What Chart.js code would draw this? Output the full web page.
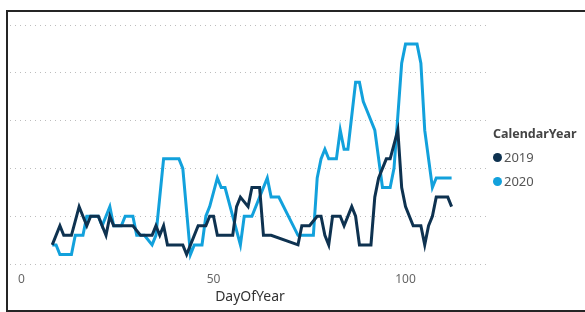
<!DOCTYPE html>
<html>
<head>
<meta charset="utf-8">
<script src="https://cdn.jsdelivr.net/npm/chart.js@4.4.1/dist/chart.umd.min.js"></script>
<style>
  html, body { margin: 0; padding: 0; background: #fff; }
  #wrap { position: relative; width: 585px; height: 312px; overflow: hidden; font-family: "Segoe UI", "Noto Sans", sans-serif; }
  #frame { position: absolute; left: 6px; top: 10px; width: 600px; height: 298px; border: 2px solid #252525; }
  canvas { position: absolute; left: 0; top: 0; }
  #legend { position: absolute; left: 493px; top: 125px; color: #555; }
  #legend .ttl { font-weight: bold; font-size: 12.5px; color: #444; margin-bottom: 3px; }
  #legend .item { font-size: 13px; height: 24px; display: flex; align-items: center; }
  #legend .dot { width: 9px; height: 9px; border-radius: 50%; margin-right: 2px; }
</style>
</head>
<body>
<div id="wrap">
  <div id="frame"></div>
  <canvas id="chart" width="585" height="312"></canvas>
  <div id="legend"></div>
</div>
<script>
// series values (day of year -> count)
const days2019 = [8, 10, 11, 13, 15, 16, 17, 18, 20, 21, 22, 23, 24, 29, 31, 34, 35, 36, 37, 38, 42, 43, 44, 46, 48, 49, 50, 51, 55, 56, 57, 59, 60, 62, 63, 65, 72, 73, 75, 77, 78, 79, 80, 81, 83, 84, 86, 87, 88, 91, 92, 93, 95, 96, 98, 99, 100, 102, 104, 105, 106, 107, 108, 111, 112];
const vals2019 = [2, 4, 3, 3, 6, 5, 4, 5, 5, 4, 3, 5, 4, 4, 3, 3, 4, 3, 4, 2, 2, 1, 2, 4, 4, 5, 5, 3, 3, 6, 7, 6, 8, 8, 3, 3, 2, 4, 4, 5, 5, 3, 2, 5, 5, 4, 6, 5, 2, 2, 7, 9, 11, 11, 14, 8, 6, 4, 4, 2, 4, 5, 7, 7, 6];

const days2020 = [8, 9, 10, 13, 14, 16, 17, 20, 21, 23, 24, 26, 27, 29, 30, 32, 34, 35, 37, 41, 42, 44, 45, 47, 48, 49, 51, 52, 53, 55, 57, 58, 60, 64, 65, 67, 72, 76, 77, 78, 79, 80, 82, 83, 84, 85, 87, 88, 89, 90, 92, 94, 96, 97, 99, 100, 103, 104, 105, 107, 108, 112];
const vals2020 = [2, 2, 1, 1, 3, 3, 5, 5, 4, 6, 4, 4, 5, 5, 3, 3, 2, 3, 11, 11, 10, 1, 2, 2, 5, 6, 9, 8, 8, 5, 2, 5, 5, 9, 7, 7, 3, 3, 9, 11, 12, 11, 11, 14, 12, 12, 19, 19, 17, 16, 14, 8, 8, 10, 21, 23, 23, 21, 14, 8, 9, 9];

const years = ['2019', '2020'];
const colors = ['#0e3250', '#12a1dc'];
const xTicks = [0, 50, 100];
const yGrid = [0, 5, 10, 15, 20, 25];

const toPoints = (xs, ys) => xs.map((d, i) => ({ x: d, y: ys[i] }));

const fontFamily = '"Segoe UI", "Noto Sans", sans-serif';

new Chart(document.getElementById('chart'), {
  type: 'line',
  data: {
    datasets: [
      { label: years[0], data: toPoints(days2019, vals2019), borderColor: colors[0], backgroundColor: colors[0] },
      { label: years[1], data: toPoints(days2020, vals2020), borderColor: colors[1], backgroundColor: colors[1] },
    ],
  },
  options: {
    responsive: false,
    animation: false,
    layout: { padding: { left: 10, right: 95, top: 25, bottom: 0 } },
    elements: {
      line: { borderWidth: 3, tension: 0, borderJoinStyle: 'miter' },
      point: { radius: 0 },
    },
    plugins: { legend: { display: false }, tooltip: { enabled: false } },
    scales: {
      x: {
        type: 'linear',
        min: -3,
        max: 122,
        afterBuildTicks: (scale) => { scale.ticks = xTicks.map(v => ({ value: v })); },
        afterFit: (scale) => { scale.height = 48; },
        grid: { display: false, drawTicks: false },
        border: { display: false },
        ticks: { color: '#666', font: { family: fontFamily, size: 12 }, padding: 8 },
        title: { display: true, text: 'DayOfYear', color: '#333', font: { family: fontFamily, size: 14 }, padding: { top: 2, bottom: 7 } },
      },
      y: {
        min: 0,
        max: 25,
        afterBuildTicks: (scale) => { scale.ticks = yGrid.map(v => ({ value: v })); },
        ticks: { display: false },
        // dotted grid lines
        border: { display: false, dash: [1, 4] },
        grid: { color: '#bdbdbd', lineWidth: 1, drawTicks: false, tickLength: 0 },
      },
    },
  },
});

// legend as html, using the same series names and colours
const legend = document.getElementById('legend');
legend.innerHTML = '<div class="ttl">CalendarYear</div>' +
  years.map((y, i) => `<div class="item"><span class="dot" style="background:${colors[i]}"></span>${y}</div>`).join('');
</script>
</body>
</html>
